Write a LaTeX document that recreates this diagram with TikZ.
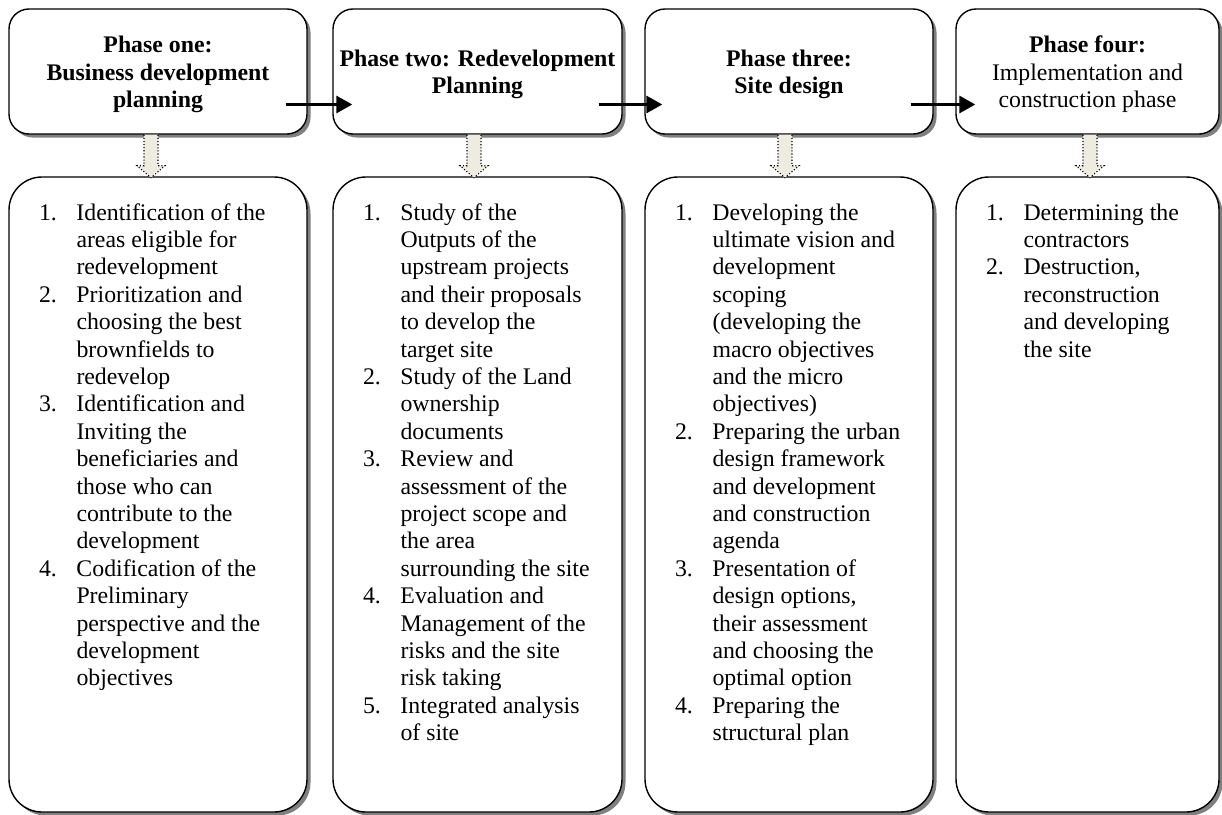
\documentclass[tikz,border=0pt]{standalone}
\usepackage{fontspec}
\setmainfont{Liberation Serif}
\usetikzlibrary{shadows,calc,arrows.meta}
\definecolor{arrowfill}{HTML}{EEECE1}
\newcommand\phasefont{\fontsize{23.8}{27.4}\selectfont}

\begin{document}
\begin{tikzpicture}[x=1pt,y=1pt,yscale=-1,xscale=1,
    phasebox/.style={draw,line width=1.4pt,rounded corners=20pt,fill=white,minimum height=125pt,inner sep=0pt,
      drop shadow={shadow xshift=3.5pt,shadow yshift=-3.5pt,fill=black!50,opacity=1}},
    listbox/.style={phasebox,rounded corners=33pt,minimum height=635pt},
    phasetext/.style={font=\phasefont,align=center,inner sep=0pt},
    listtext/.style={font=\phasefont,anchor=north west,inner sep=0pt},
    flow/.style={line width=3pt,-{Triangle[length=16pt,width=17pt]}},
    hollow/.style={fill=arrowfill,draw=black,dotted,line width=1.1pt}]
    \useasboundingbox (0,0) rectangle (1222,814);

    %Rounded Rect (phases)
    \node[phasebox,minimum width=298pt] (p1) at (158,71.5) {};
    \node[phasebox,minimum width=289pt] (p2) at (477.5,71.5) {};
    \node[phasebox,minimum width=288pt] (p3) at (789,71.5) {};
    \node[phasebox,minimum width=263pt] (p4) at (1087.5,71.5) {};

    %Rounded Rect (lists)
    \node[listbox,minimum width=298pt] (l1) at (158,494.5) {};
    \node[listbox,minimum width=289pt] (l2) at (477.5,494.5) {};
    \node[listbox,minimum width=288pt] (l3) at (789,494.5) {};
    \node[listbox,minimum width=263pt] (l4) at (1087.5,494.5) {};

    % Text Node
    \node[phasetext] (t1) at ($(p1.center)+(0,3)$) {\textbf{Phase one:}\\\textbf{Business development}\\\textbf{planning}};
    % Text Node
    \node[phasetext] (t2) at ($(p2.center)+(0,3)$) {\textbf{Phase two: Redevelopment}\\\textbf{Planning}};
    % Text Node
    \node[phasetext] (t3) at ($(p3.center)+(0,3)$) {\textbf{Phase three:}\\\textbf{Site design}};
    % Text Node
    \node[phasetext] (t4) at ($(p4.center)+(0,3)$) {\textbf{Phase four:}\\Implementation and\\construction phase};

    % Text Node
    \node[listtext] (n1) at ($(l1.north west)+(30.5,24.5)$) {\begin{tabular}{@{}p{37.5pt}@{}l@{}}
      1. & Identification of the\\ & areas eligible for\\ & redevelopment\\
      2. & Prioritization and\\ & choosing the best\\ & brownfields to\\ & redevelop\\
      3. & Identification and\\ & Inviting the\\ & beneficiaries and\\ & those who can\\ & contribute to the\\ & development\\
      4. & Codification of the\\ & Preliminary\\ & perspective and the\\ & development\\ & objectives
    \end{tabular}};
    % Text Node
    \node[listtext] (n2) at ($(l2.north west)+(30.5,24.5)$) {\begin{tabular}{@{}p{37.5pt}@{}l@{}}
      1. & Study of the\\ & Outputs of the\\ & upstream projects\\ & and their proposals\\ & to develop the\\ & target site\\
      2. & Study of the Land\\ & ownership\\ & documents\\
      3. & Review and\\ & assessment of the\\ & project scope and\\ & the area\\ & surrounding the site\\
      4. & Evaluation and\\ & Management of the\\ & risks and the site\\ & risk taking\\
      5. & Integrated analysis\\ & of site
    \end{tabular}};
    % Text Node
    \node[listtext] (n3) at ($(l3.north west)+(30.5,24.5)$) {\begin{tabular}{@{}p{37.5pt}@{}l@{}}
      1. & Developing the\\ & ultimate vision and\\ & development\\ & scoping\\ & (developing the\\ & macro objectives\\ & and the micro\\ & objectives)\\
      2. & Preparing the urban\\ & design framework\\ & and development\\ & and construction\\ & agenda\\
      3. & Presentation of\\ & design options,\\ & their assessment\\ & and choosing the\\ & optimal option\\
      4. & Preparing the\\ & structural plan
    \end{tabular}};
    % Text Node
    \node[listtext] (n4) at ($(l4.north west)+(30.5,24.5)$) {\begin{tabular}{@{}p{37.5pt}@{}l@{}}
      1. & Determining the\\ & contractors\\
      2. & Destruction,\\ & reconstruction\\ & and developing\\ & the site
    \end{tabular}};

    %Straight Lines [arrows between phases]
    \draw[flow] ($(p1.east)+(-22,33)$) -- ($(p2.west)+(20,33)$);
    \draw[flow] ($(p2.east)+(-24,33)$) -- ($(p3.west)+(18,33)$);
    \draw[flow] ($(p3.east)+(-23,33)$) -- ($(p4.west)+(20,33)$);

    %Down Arrows [dotted]
    \foreach \n/\dx in {1/-7,2/-3.5,3/-4,4/2.5}
      \draw[hollow] ($(p\n.south)+(\dx-7,0)$) -- ++(0,31) -- ++(-7,0) -- ++(14,12) -- ++(14,-12) -- ++(-7,0) -- ++(0,-31);
\end{tikzpicture}
\end{document}
